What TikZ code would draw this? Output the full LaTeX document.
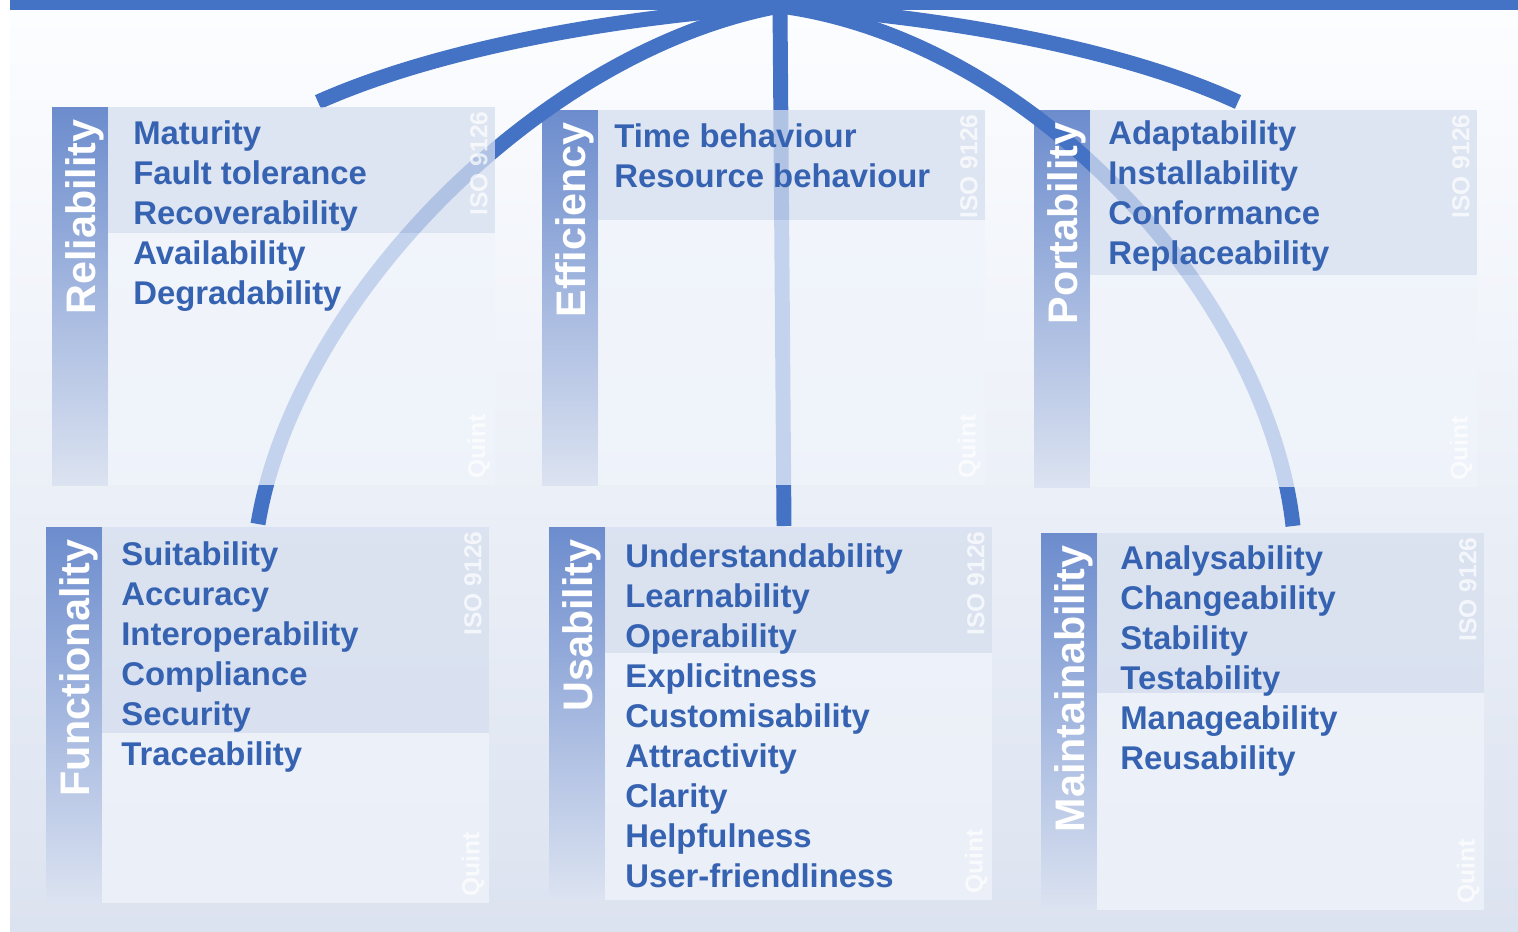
\documentclass[tikz,border=0pt]{standalone}
\usepackage{fontspec}
\setmainfont{Liberation Sans}

\definecolor{isoblue}{RGB}{68,114,196}
\definecolor{itemblue}{RGB}{54,98,178}
\definecolor{barblue}{RGB}{108,140,205}
\definecolor{barfade}{RGB}{220,227,241}
\definecolor{headfill}{RGB}{214,223,239}
\definecolor{bodyfill}{RGB}{240,244,251}
\definecolor{bgtop}{RGB}{252,253,255}
\definecolor{bgbottom}{RGB}{220,227,240}

\tikzset{
  link/.style={line width=8.5pt,isoblue},
  item/.style={anchor=base west,inner sep=0pt,text=itemblue,
    font=\fontsize{18.7}{22}\selectfont\bfseries},
  barlabel/.style={rotate=90,anchor=base east,inner sep=0pt,text=white,
    font=\fontsize{23.5}{28}\selectfont\bfseries},
  stamp/.style={rotate=90,inner sep=0pt,text=white,text opacity=.7,
    font=\fontsize{14}{16}\selectfont\bfseries},
}

% name/bar x/top/header bottom/bottom/text x/first baseline/label/items
\newcommand{\qualboxes}{
  rel/52/107/233/485/133/144/Reliability/{Maturity,Fault tolerance,Recoverability,Availability,Degradability},
  eff/542/110/220/485/614/147/Efficiency/{Time behaviour,Resource behaviour},
  por/1034/110/275/487/1108/144/Portability/{Adaptability,Installability,Conformance,Replaceability},
  fun/46/527/733/903/121/565/Functionality/{Suitability,Accuracy,Interoperability,Compliance,Security,Traceability},
  usa/549/527/653/900/625/567/Usability/{Understandability,Learnability,Operability,Explicitness,Customisability,Attractivity,Clarity,Helpfulness,User-friendliness},
  mai/1041/533/693/910/1120/569/Maintainability/{Analysability,Changeability,Stability,Testability,Manageability,Reusability}}

\begin{document}
\begin{tikzpicture}[x=0.02cm,y=-0.02cm]
  \useasboundingbox (0,0) rectangle (1518,931);
  \shade[top color=bgtop,bottom color=bgbottom] (10,10) rectangle (1518,931);
  \fill[isoblue] (10,0) rectangle (1518,10);

  % bars
  \foreach \nm/\bx/\ty/\hy/\by/\tx/\fy/\lab/\items in \qualboxes{
    \shade[top color=barblue,bottom color=barfade] (\bx,\ty) rectangle (\bx+56,\by);
  }

  % links from the top bar
  \coordinate (hub) at (780,6);
  \coordinate (relEnd) at (318,102);
  \coordinate (porEnd) at (1238,102);
  \coordinate (funEnd) at (258,524);
  \coordinate (usaEnd) at (784,526);
  \coordinate (maiEnd) at (1293,526);
  \draw[link] (hub) .. controls (600,18) and (430,52) .. (relEnd);
  \draw[link] (hub) .. controls (960,18) and (1130,52) .. (porEnd);
  \draw[link] (hub) .. controls (540,50) and (295,300) .. (funEnd);
  \draw[link] (hub) .. controls (1035,40) and (1268,300) .. (maiEnd);
  \draw[link] (hub) -- (usaEnd);

  % panels and texts
  \foreach \nm/\bx/\ty/\hy/\by/\tx/\fy/\lab/\items in \qualboxes{
    \fill[headfill,fill opacity=.75] (\bx+56,\ty) rectangle (\bx+443,\hy);
    \fill[bodyfill,fill opacity=.75] (\bx+56,\hy) rectangle (\bx+443,\by);
    \node[barlabel] (\nm-lab) at (\bx+43,\ty+12) {\lab};
    \node[stamp,anchor=east] (\nm-iso) at (\bx+427,\ty+4) {ISO 9126};
    \node[stamp,anchor=west] (\nm-quint) at (\bx+427,\by-6) {Quint};
    \foreach \it [count=\k] in \items
      \node[item] (\nm-\k) at (\tx,\fy+\k*40-40) {\it};
  }
\end{tikzpicture}
\end{document}
